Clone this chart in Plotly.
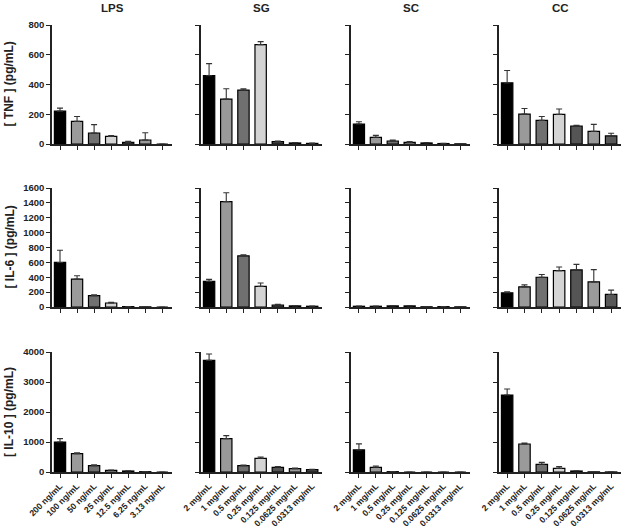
import plotly.graph_objects as go
from plotly.subplots import make_subplots

W, H = 623, 529

groups = ["LPS", "SG", "SC", "CC"]
cytokines = ["[ TNF ] (pg/mL)", "[ IL-6 ] (pg/mL)", "[ IL-10 ] (pg/mL)"]

lps_labels = ["200 ng/mL", "100 ng/mL", "50 ng/mL", "25 ng/mL", "12.5 ng/mL", "6.25 ng/mL", "3.13 ng/mL"]
mg_labels = ["2 mg/mL", "1 mg/mL", "0.5 mg/mL", "0.25 mg/mL", "0.125 mg/mL", "0.0625 mg/mL", "0.0313 mg/mL"]
col_labels = [lps_labels, mg_labels, mg_labels, mg_labels]

# TNF
tnf_lps = [221, 152, 74, 51, 11, 27, 0]
tnf_lps_err = [20, 33, 56, 5, 7, 49, 0]
tnf_sg = [459, 302, 362, 668, 16, 7, 4]
tnf_sg_err = [81, 69, 9, 20, 4, 2, 2]
tnf_sc = [134, 45, 20, 11, 7, 3, 1]
tnf_sc_err = [16, 13, 7, 5, 2, 1, 0]
tnf_cc = [411, 201, 159, 199, 121, 85, 54]
tnf_cc_err = [83, 38, 26, 36, 4, 47, 18]

# IL-6
il6_lps = [599, 375, 152, 54, 5, 2, 0]
il6_lps_err = [165, 45, 13, 9, 2, 0, 0]
il6_sg = [344, 1417, 688, 277, 27, 15, 10]
il6_sg_err = [27, 120, 14, 45, 9, 4, 3]
il6_sc = [10, 10, 15, 15, 3, 5, 2]
il6_sc_err = [4, 4, 6, 5, 1, 2, 1]
il6_cc = [191, 271, 400, 489, 498, 338, 169]
il6_cc_err = [12, 27, 36, 49, 75, 164, 58]

# IL-10
il10_lps = [1000, 611, 211, 56, 33, 10, 0]
il10_lps_err = [111, 33, 33, 8, 6, 3, 0]
il10_sg = [3722, 1111, 211, 456, 156, 111, 78]
il10_sg_err = [211, 100, 22, 44, 22, 22, 11]
il10_sc = [737, 156, 11, 0, 0, 0, 0]
il10_sc_err = [202, 45, 5, 0, 0, 0, 0]
il10_cc = [2567, 933, 256, 122, 33, 5, 2]
il10_cc_err = [200, 34, 66, 56, 11, 2, 1]

values = [
    [tnf_lps, tnf_sg, tnf_sc, tnf_cc],
    [il6_lps, il6_sg, il6_sc, il6_cc],
    [il10_lps, il10_sg, il10_sc, il10_cc],
]
errors = [
    [tnf_lps_err, tnf_sg_err, tnf_sc_err, tnf_cc_err],
    [il6_lps_err, il6_sg_err, il6_sc_err, il6_cc_err],
    [il10_lps_err, il10_sg_err, il10_sc_err, il10_cc_err],
]
y_max = [800, 1600, 4000]
y_dtick = [200, 200, 1000]

bar_colors = ["#000000", "#9a9a9a", "#707070", "#d4d4d4", "#555555", "#9a9a9a", "#585858"]

# pixel layout of panels
col_px = [(52, 172), (201, 322), (351, 470), (499, 621)]
row_px = [(25, 144), (188, 307), (352, 472)]

fig = make_subplots(rows=3, cols=4)
FONT = "Liberation Sans, Arial, sans-serif"
axis_color = "#222222"

for r in range(3):
    for c in range(4):
        xs = list(range(7))
        fig.add_trace(
            go.Bar(
                x=xs,
                y=values[r][c],
                width=0.66,
                marker=dict(color=bar_colors, line=dict(color="#000000", width=1.2)),
                error_y=dict(
                    type="data",
                    symmetric=False,
                    array=errors[r][c],
                    arrayminus=[0] * 7,
                    color="#333333",
                    thickness=1.1,
                    width=3,
                ),
                showlegend=False,
            ),
            row=r + 1,
            col=c + 1,
        )
        x0, x1 = col_px[c]
        y0, y1 = row_px[r]
        idx = r * 4 + c + 1
        xname = "xaxis" if idx == 1 else f"xaxis{idx}"
        yname = "yaxis" if idx == 1 else f"yaxis{idx}"
        fig.layout[xname].update(
            domain=[x0 / W, x1 / W],
            range=[-0.47, 6.57],
            tickmode="array",
            tickvals=xs,
            ticktext=col_labels[c],
            showticklabels=(r == 2),
            tickangle=-45,
            ticks="outside",
            ticklen=4,
            tickwidth=1.2,
            tickcolor=axis_color,
            showline=True,
            linecolor=axis_color,
            linewidth=1.5,
            showgrid=False,
            zeroline=False,
            automargin=False,
            tickfont=dict(family=FONT, size=8.6, color="#222222", weight="bold"),
            fixedrange=True,
        )
        fig.layout[yname].update(
            domain=[1 - y1 / H, 1 - y0 / H],
            range=[0, y_max[r]],
            dtick=y_dtick[r],
            tick0=0,
            showticklabels=(c == 0),
            ticks="outside",
            ticklen=4,
            tickwidth=1.2,
            tickcolor=axis_color,
            showline=True,
            linecolor=axis_color,
            linewidth=1.5,
            showgrid=False,
            zeroline=False,
            automargin=False,
            tickfont=dict(family=FONT, size=9.5, color="#222222", weight="bold"),
            fixedrange=True,
        )

annotations = []
for c, g in enumerate(groups):
    x0, x1 = col_px[c]
    annotations.append(
        dict(
            text=g,
            x=(x0 + x1) / 2 / W,
            y=1 - 8 / H,
            xref="paper",
            yref="paper",
            xanchor="center",
            yanchor="middle",
            showarrow=False,
            font=dict(family=FONT, size=11.5, color="#222222", weight="bold"),
        )
    )
for r, name in enumerate(cytokines):
    y0, y1 = row_px[r]
    annotations.append(
        dict(
            text=name,
            x=9 / W,
            y=1 - (y0 + y1) / 2 / H,
            xref="paper",
            yref="paper",
            xanchor="center",
            yanchor="middle",
            textangle=-90,
            showarrow=False,
            font=dict(family=FONT, size=12, color="#222222", weight="bold"),
        )
    )

fig.update_layout(
    width=W,
    height=H,
    margin=dict(l=0, r=0, t=0, b=0, autoexpand=False),
    paper_bgcolor="white",
    plot_bgcolor="white",
    annotations=annotations,
    bargap=0.3,
)

fig.write_html(
    "out.html",
    config={"displayModeBar": False},
    post_script="document.body.style.margin='0';document.body.style.overflow='hidden';",
)
